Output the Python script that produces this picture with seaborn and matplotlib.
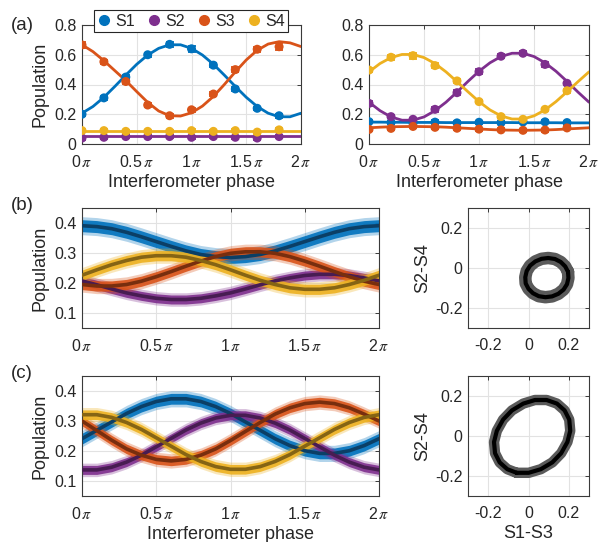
import numpy as np
import pandas as pd
import matplotlib
matplotlib.use("Agg")
import matplotlib.pyplot as plt
from matplotlib.lines import Line2D
import seaborn as sns

# ---------------- data ----------------
series = ["S1", "S2", "S3", "S4"]
colors = {"S1": "#0072BD", "S2": "#7E2F8E", "S3": "#D95319", "S4": "#EDB120"}
dark = {"S1": "#0B3F66", "S2": "#481C52", "S3": "#782E0E", "S4": "#856414"}

# phases in units of pi
phase_pts = [0.0, 0.2, 0.4, 0.6, 0.8, 1.0, 1.2, 1.4, 1.6, 1.8]
phase_fit = [0.0, 0.1, 0.2, 0.3, 0.4, 0.5, 0.6, 0.7, 0.8, 0.9, 1.0,
             1.1, 1.2, 1.3, 1.4, 1.5, 1.6, 1.7, 1.8, 1.9, 2.0]
phase_ticks = [0, 0.5, 1, 1.5, 2]
phase_labels = [r"0$\,\pi$", r"0.5$\,\pi$", r"1$\,\pi$", r"1.5$\,\pi$", r"2$\,\pi$"]

# (a) left: measured points, error bars, fits
aL_pts_S1 = [0.20, 0.31, 0.45, 0.60, 0.67, 0.64, 0.53, 0.37, 0.24, 0.19]
aL_pts_S2 = [0.040, 0.045, 0.050, 0.050, 0.050, 0.045, 0.050, 0.045, 0.040, 0.050]
aL_pts_S3 = [0.666, 0.553, 0.420, 0.262, 0.190, 0.230, 0.336, 0.500, 0.637, 0.654]
aL_pts_S4 = [0.090, 0.090, 0.085, 0.085, 0.085, 0.090, 0.085, 0.090, 0.080, 0.095]
aL_err_S1 = [0.012, 0.015, 0.015, 0.012, 0.018, 0.022, 0.015, 0.012, 0.012, 0.012]
aL_err_S2 = [0.010, 0.010, 0.010, 0.010, 0.010, 0.010, 0.010, 0.010, 0.010, 0.010]
aL_err_S3 = [0.022, 0.015, 0.015, 0.012, 0.012, 0.012, 0.015, 0.015, 0.018, 0.022]
aL_err_S4 = [0.010, 0.010, 0.010, 0.010, 0.010, 0.010, 0.010, 0.010, 0.010, 0.010]
aL_fit_S1 = [0.207, 0.252, 0.314, 0.387, 0.463, 0.536, 0.598, 0.643, 0.667, 0.667, 0.643,
             0.598, 0.536, 0.463, 0.387, 0.314, 0.252, 0.207, 0.183, 0.183, 0.207]
aL_fit_S2 = [0.055, 0.055, 0.055, 0.055, 0.055, 0.055, 0.055, 0.055, 0.055, 0.055, 0.055,
             0.055, 0.055, 0.055, 0.055, 0.055, 0.055, 0.055, 0.055, 0.055, 0.055]
aL_fit_S3 = [0.667, 0.621, 0.560, 0.493, 0.426, 0.352, 0.280, 0.222, 0.190, 0.188, 0.210,
             0.255, 0.320, 0.400, 0.485, 0.565, 0.630, 0.672, 0.688, 0.680, 0.655]
aL_fit_S4 = [0.090, 0.090, 0.090, 0.090, 0.090, 0.090, 0.090, 0.090, 0.090, 0.090, 0.090,
             0.090, 0.090, 0.090, 0.090, 0.090, 0.090, 0.090, 0.090, 0.090, 0.090]

# (a) right
aR_pts_S1 = [0.150, 0.145, 0.140, 0.147, 0.142, 0.146, 0.143, 0.148, 0.149, 0.144]
aR_pts_S2 = [0.273, 0.184, 0.166, 0.233, 0.345, 0.486, 0.590, 0.610, 0.535, 0.408]
aR_pts_S3 = [0.098, 0.105, 0.118, 0.112, 0.106, 0.100, 0.095, 0.092, 0.094, 0.108]
aR_pts_S4 = [0.497, 0.583, 0.594, 0.527, 0.424, 0.285, 0.184, 0.166, 0.233, 0.358]
aR_err_S1 = [0.010, 0.010, 0.010, 0.012, 0.010, 0.010, 0.010, 0.010, 0.010, 0.010]
aR_err_S2 = [0.015, 0.012, 0.012, 0.015, 0.015, 0.015, 0.015, 0.015, 0.015, 0.012]
aR_err_S3 = [0.010, 0.010, 0.010, 0.010, 0.010, 0.010, 0.010, 0.010, 0.010, 0.010]
aR_err_S4 = [0.015, 0.018, 0.020, 0.015, 0.015, 0.012, 0.012, 0.012, 0.012, 0.015]
aR_fit_S1 = [0.147, 0.147, 0.146, 0.146, 0.145, 0.145, 0.145, 0.144, 0.144, 0.144, 0.144,
             0.144, 0.144, 0.144, 0.143, 0.143, 0.143, 0.143, 0.142, 0.142, 0.142]
aR_fit_S2 = [0.281, 0.224, 0.182, 0.160, 0.160, 0.182, 0.224, 0.281, 0.349, 0.421, 0.489,
             0.546, 0.588, 0.610, 0.610, 0.588, 0.546, 0.489, 0.421, 0.349, 0.281]
aR_fit_S3 = [0.109, 0.113, 0.116, 0.117, 0.118, 0.117, 0.116, 0.113, 0.109, 0.105, 0.101,
             0.097, 0.094, 0.093, 0.092, 0.093, 0.094, 0.097, 0.101, 0.105, 0.109]
aR_fit_S4 = [0.485, 0.541, 0.581, 0.602, 0.602, 0.581, 0.541, 0.485, 0.419, 0.351, 0.285,
             0.229, 0.189, 0.168, 0.168, 0.189, 0.229, 0.285, 0.351, 0.419, 0.485]

# (b) fitted populations and half-width of the measured scatter cloud
b_fit_S1 = [0.391, 0.388, 0.381, 0.369, 0.354, 0.338, 0.322, 0.307, 0.295, 0.288, 0.285,
            0.288, 0.295, 0.307, 0.322, 0.338, 0.354, 0.369, 0.381, 0.388, 0.391]
b_fit_S2 = [0.207, 0.194, 0.180, 0.167, 0.157, 0.149, 0.145, 0.145, 0.149, 0.157, 0.167,
            0.180, 0.194, 0.207, 0.217, 0.225, 0.229, 0.229, 0.225, 0.217, 0.207]
b_fit_S3 = [0.195, 0.190, 0.190, 0.195, 0.206, 0.221, 0.238, 0.256, 0.273, 0.288, 0.299,
            0.304, 0.304, 0.299, 0.288, 0.273, 0.256, 0.238, 0.221, 0.206, 0.195]
b_fit_S4 = [0.226, 0.244, 0.261, 0.275, 0.286, 0.291, 0.291, 0.286, 0.275, 0.261, 0.244,
            0.226, 0.209, 0.195, 0.184, 0.179, 0.179, 0.184, 0.195, 0.209, 0.226]
b_spread = {"S1": 0.020, "S2": 0.015, "S3": 0.017, "S4": 0.017}

# (c)
c_fit_S1 = [0.241, 0.269, 0.297, 0.325, 0.348, 0.365, 0.374, 0.374, 0.365, 0.348, 0.325,
            0.297, 0.269, 0.241, 0.218, 0.201, 0.192, 0.192, 0.201, 0.218, 0.241]
c_fit_S2 = [0.137, 0.137, 0.146, 0.163, 0.186, 0.214, 0.242, 0.270, 0.293, 0.310, 0.319,
            0.319, 0.310, 0.293, 0.270, 0.242, 0.214, 0.186, 0.163, 0.146, 0.137]
c_fit_S3 = [0.300, 0.268, 0.236, 0.207, 0.186, 0.172, 0.167, 0.172, 0.186, 0.207, 0.235,
            0.265, 0.295, 0.323, 0.344, 0.358, 0.363, 0.358, 0.344, 0.323, 0.300]
c_fit_S4 = [0.321, 0.321, 0.312, 0.295, 0.272, 0.244, 0.216, 0.188, 0.165, 0.148, 0.139,
            0.139, 0.148, 0.165, 0.188, 0.216, 0.244, 0.272, 0.295, 0.312, 0.321]
c_spread = {"S1": 0.018, "S2": 0.015, "S3": 0.016, "S4": 0.016}

# ---------------- style ----------------
sns.set_theme(style="whitegrid")
plt.rcParams["font.family"] = ["Liberation Sans", "DejaVu Sans"]
plt.rcParams["mathtext.fontset"] = "stix"
plt.rcParams["axes.unicode_minus"] = False
TXT = "#262626"
LAB = 13
TICK = 11.5

W, H = 605, 542
fig = plt.figure(figsize=(W / 100, H / 100), dpi=100)
fig.patch.set_facecolor("white")


def add_ax(x0, y0, x1, y1):
    return fig.add_axes([x0 / W, 1 - y1 / H, (x1 - x0) / W, (y1 - y0) / H])


def style(ax):
    ax.set_facecolor("white")
    for s in ax.spines.values():
        s.set_visible(True)
        s.set_color("#3a3a3a")
        s.set_linewidth(0.8)
    ax.grid(True, color="#e2e2e2", linewidth=0.8)
    ax.set_axisbelow(True)
    ax.tick_params(direction="in", length=3, width=0.7, colors="#3a3a3a",
                   labelcolor=TXT, labelsize=TICK, top=True, right=True)
    ax.tick_params(axis="x", pad=7)
    ax.tick_params(axis="y", pad=4)


def phase_axis(ax):
    ax.set_xlim(0, 2)
    ax.set_xticks(phase_ticks)
    ax.set_xticklabels(phase_labels)


def long_df(fits):
    rows = []
    for s in series:
        for p, v in zip(phase_fit, fits[s]):
            rows.append({"phase": p, "pop": v, "series": s})
    return pd.DataFrame(rows)


def panel_a(ax, pts, errs, fits):
    df_fit = long_df(fits)
    rows = []
    for s in series:
        for p, v, e in zip(phase_pts, pts[s], errs[s]):
            rows.append({"phase": p, "pop": v, "err": e, "series": s})
    df_pts = pd.DataFrame(rows)
    for s in series:
        d = df_pts[df_pts.series == s]
        ax.errorbar(d.phase, d["pop"], yerr=d.err, fmt="none", ecolor=colors[s],
                    elinewidth=1.3, capsize=3, capthick=1.3, zorder=3)
    sns.lineplot(data=df_fit, x="phase", y="pop", hue="series", palette=colors,
                 linewidth=2.0, legend=False, ax=ax, zorder=3, estimator=None)
    sns.scatterplot(data=df_pts, x="phase", y="pop", hue="series", palette=colors,
                    s=42, edgecolor="none", legend=False, ax=ax, zorder=4)
    style(ax)
    phase_axis(ax)
    ax.set_ylim(0, 0.8)
    ax.set_yticks([0, 0.2, 0.4, 0.6, 0.8])
    ax.set_yticklabels(["0", "0.2", "0.4", "0.6", "0.8"])
    ax.set_xlabel("Interferometer phase", fontsize=LAB, color=TXT, labelpad=3)
    ax.set_ylabel("")


def panel_cloud(ax, fits, spread):
    for s in series:
        lo = [v - spread[s] for v in fits[s]]
        hi = [v + spread[s] for v in fits[s]]
        lo2 = [v - 1.5 * spread[s] for v in fits[s]]
        hi2 = [v + 1.5 * spread[s] for v in fits[s]]
        ax.fill_between(phase_fit, lo2, hi2, color=colors[s], alpha=0.3,
                        linewidth=0, zorder=2)
        ax.fill_between(phase_fit, lo, hi, color=colors[s], alpha=0.9,
                        linewidth=0, zorder=2)
    sns.lineplot(data=long_df(fits), x="phase", y="pop", hue="series", palette=dark,
                 linewidth=2.6, legend=False, ax=ax, zorder=3, estimator=None)
    style(ax)
    phase_axis(ax)
    ax.set_ylim(0.05, 0.45)
    ax.set_yticks([0.1, 0.2, 0.3, 0.4])
    ax.set_yticklabels(["0.1", "0.2", "0.3", "0.4"])
    ax.set_xlabel("")
    ax.set_ylabel("Population", fontsize=LAB, color=TXT, labelpad=4)


def panel_ellipse(ax, fits, ring_lw):
    x = np.array(fits["S1"]) - np.array(fits["S3"])
    y = np.array(fits["S2"]) - np.array(fits["S4"])
    df = pd.DataFrame({"d13": x, "d24": y})
    sns.lineplot(data=df, x="d13", y="d24", sort=False, estimator=None,
                 color="#5a5a5a", linewidth=ring_lw, ax=ax, zorder=2)
    sns.lineplot(data=df, x="d13", y="d24", sort=False, estimator=None,
                 color="black", linewidth=3.0, ax=ax, zorder=3)
    style(ax)
    ax.set_xlim(-0.3, 0.3)
    ax.set_ylim(-0.3, 0.3)
    ax.set_xticks([-0.2, 0, 0.2])
    ax.set_xticklabels(["-0.2", "0", "0.2"])
    ax.set_yticks([-0.2, 0, 0.2])
    ax.set_yticklabels(["-0.2", "0", "0.2"])
    ax.set_xlabel("")
    ax.set_ylabel("S2-S4", fontsize=LAB, color=TXT, labelpad=3)


# (a)
axA1 = add_ax(82, 25, 301, 144)
panel_a(axA1,
        {"S1": aL_pts_S1, "S2": aL_pts_S2, "S3": aL_pts_S3, "S4": aL_pts_S4},
        {"S1": aL_err_S1, "S2": aL_err_S2, "S3": aL_err_S3, "S4": aL_err_S4},
        {"S1": aL_fit_S1, "S2": aL_fit_S2, "S3": aL_fit_S3, "S4": aL_fit_S4})
axA1.set_ylabel("Population", fontsize=LAB, color=TXT, labelpad=4)

axA2 = add_ax(369, 25, 589, 144)
panel_a(axA2,
        {"S1": aR_pts_S1, "S2": aR_pts_S2, "S3": aR_pts_S3, "S4": aR_pts_S4},
        {"S1": aR_err_S1, "S2": aR_err_S2, "S3": aR_err_S3, "S4": aR_err_S4},
        {"S1": aR_fit_S1, "S2": aR_fit_S2, "S3": aR_fit_S3, "S4": aR_fit_S4})

# (b)
axB1 = add_ax(82, 208, 379, 328)
panel_cloud(axB1, {"S1": b_fit_S1, "S2": b_fit_S2, "S3": b_fit_S3, "S4": b_fit_S4}, b_spread)
axB2 = add_ax(468, 208, 589, 328)
panel_ellipse(axB2, {"S1": b_fit_S1, "S2": b_fit_S2, "S3": b_fit_S3, "S4": b_fit_S4}, 9)

# (c)
axC1 = add_ax(82, 376, 379, 496)
panel_cloud(axC1, {"S1": c_fit_S1, "S2": c_fit_S2, "S3": c_fit_S3, "S4": c_fit_S4}, c_spread)
axC1.set_xlabel("Interferometer phase", fontsize=LAB, color=TXT, labelpad=3)
axC2 = add_ax(468, 376, 589, 496)
panel_ellipse(axC2, {"S1": c_fit_S1, "S2": c_fit_S2, "S3": c_fit_S3, "S4": c_fit_S4}, 7.5)
axC2.set_xlabel("S1-S3", fontsize=LAB, color=TXT, labelpad=3)

# legend
handles = [Line2D([], [], marker="o", linestyle="none", markersize=7,
                  markerfacecolor=colors[s], markeredgecolor=colors[s]) for s in series]
leg = fig.legend(handles, series, loc="center", bbox_to_anchor=(191 / W, 1 - 21 / H),
                 ncol=4, frameon=True, fancybox=False, fontsize=11.5,
                 handlelength=0.8, handletextpad=0.3, columnspacing=0.8,
                 borderpad=0.2, framealpha=1)
leg.get_frame().set_edgecolor("#262626")
leg.get_frame().set_linewidth(0.8)
for t in leg.get_texts():
    t.set_color(TXT)

# panel labels
fig.text(22 / W, 1 - 25 / H, "(a)", fontsize=13.5, color=TXT, ha="center", va="center")
fig.text(22 / W, 1 - 206 / H, "(b)", fontsize=13.5, color=TXT, ha="center", va="center")
fig.text(22 / W, 1 - 374 / H, "(c)", fontsize=13.5, color=TXT, ha="center", va="center")

fig.savefig("out.png", dpi=100, facecolor="white")
